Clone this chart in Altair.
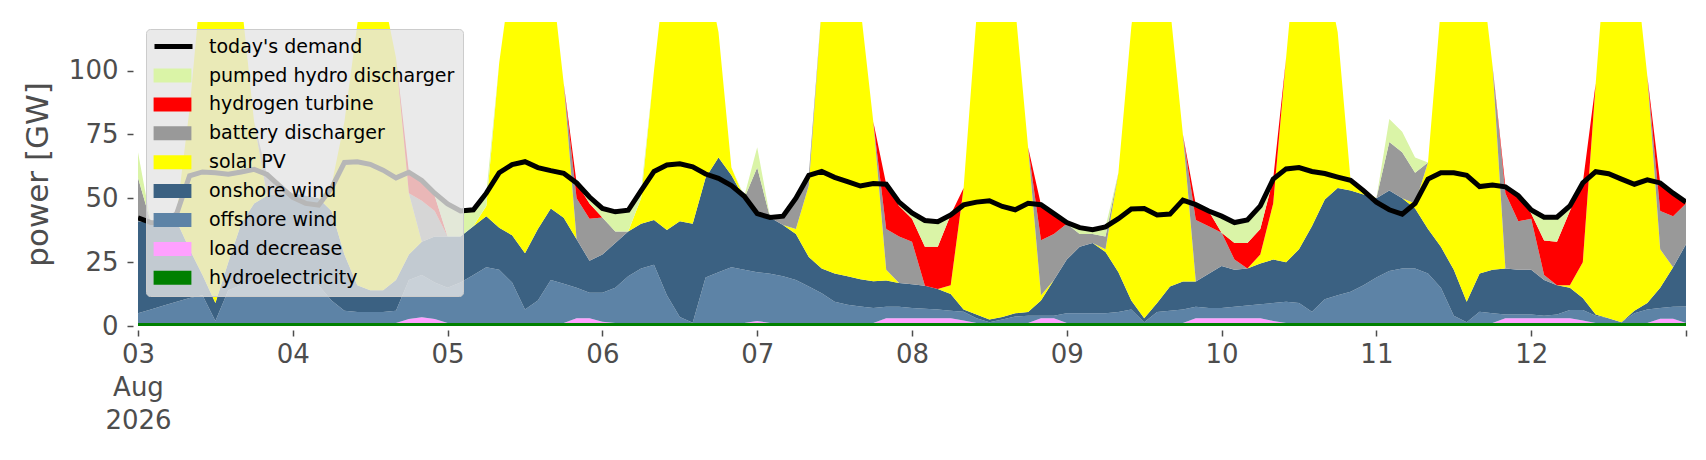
import altair as alt
import pandas as pd

# time axis: Aug 3 2026 00:00 to Aug 13 00:00, every 2 hours
times = pd.date_range("2026-08-03 00:00", periods=121, freq="2h")

demand = [
    42.3, 40.5, 40.4, 44.0, 58.8, 60.3, 60.0, 59.4, 60.3, 61.3, 59.3, 54.8,
    50.3, 48.0, 47.3, 54.0, 64.0, 64.3, 63.3, 61.0, 58.0, 60.2, 57.0, 52.0,
    47.8, 45.0, 45.5, 52.0, 60.0, 63.2, 64.3, 62.0, 60.8, 59.8, 56.0, 50.5,
    46.0, 44.7, 45.3, 53.0, 60.5, 63.0, 63.5, 62.3, 59.5, 57.8, 55.0, 50.8,
    44.0, 42.5, 43.0, 50.0, 59.0, 60.5, 58.2, 56.5, 54.8, 55.8, 55.5, 48.5,
    44.3, 41.3, 40.8, 43.5, 47.4, 48.5, 49.0, 46.8, 45.5, 48.0, 47.5, 44.0,
    40.5, 38.5, 37.7, 38.8, 42.0, 45.8, 46.0, 43.5, 43.8, 49.3, 47.5, 45.0,
    43.0, 40.5, 41.5, 47.0, 57.5, 61.5, 62.0, 60.5, 59.7, 58.3, 57.0, 53.0,
    48.5, 45.5, 43.8, 48.0, 57.5, 60.0, 60.0, 59.0, 54.6, 55.2, 54.5, 51.0,
    45.4, 42.6, 42.6, 47.0, 56.0, 60.4, 59.6, 57.5, 55.5, 57.2, 56.0, 52.0, 48.5,
]

hydro = [
    1.2, 1.2, 1.2, 1.2, 1.2, 1.2, 1.2, 1.2, 1.2, 1.2, 1.2, 1.2,
    1.2, 1.2, 1.2, 1.2, 1.2, 1.2, 1.2, 1.2, 1.2, 1.2, 1.2, 1.2,
    1.2, 1.2, 1.2, 1.2, 1.2, 1.2, 1.2, 1.2, 1.2, 1.2, 1.2, 1.2,
    1.2, 1.2, 1.2, 1.2, 1.2, 1.2, 1.2, 1.2, 1.2, 1.2, 1.2, 1.2,
    1.2, 1.2, 1.2, 1.2, 1.2, 1.2, 1.2, 1.2, 1.2, 1.2, 1.2, 1.2,
    1.2, 1.2, 1.2, 1.2, 1.2, 1.2, 1.2, 1.2, 1.2, 1.2, 1.2, 1.2,
    1.2, 1.2, 1.2, 1.2, 1.2, 1.2, 1.2, 1.2, 1.2, 1.2, 1.2, 1.2,
    1.2, 1.2, 1.2, 1.2, 1.2, 1.2, 1.2, 1.2, 1.2, 1.2, 1.2, 1.2,
    1.2, 1.2, 1.2, 1.2, 1.2, 1.2, 1.2, 1.2, 1.2, 1.2, 1.2, 1.2,
    1.2, 1.2, 1.2, 1.2, 1.2, 1.2, 1.2, 1.2, 1.2, 1.2, 1.2, 1.2, 1.2,
]

load_decrease = [
    0, 0, 0, 0, 0, 0, 0, 0, 0, 0, 0, 0,
    0, 0, 0, 0, 0, 0, 0, 0, 0, 1.5, 2.2, 1.5,
    0, 0, 0, 0, 0, 0, 0, 0, 0, 0, 1.8, 1.8,
    0.5, 0, 0, 0, 0, 0, 0, 0, 0, 0, 0, 0,
    0.8, 0, 0, 0, 0, 0, 0, 0, 0, 0, 1.8, 1.8,
    1.8, 1.8, 1.8, 1.8, 1.0, 0, 0, 0, 0, 0, 1.8, 1.8,
    0, 0, 0, 0, 0, 0, 0, 0, 0, 0, 1.8, 1.8,
    1.8, 1.8, 1.8, 1.8, 0.8, 0, 0, 0, 0, 0, 0, 0,
    0, 0, 0, 0, 0, 0, 0, 0, 0, 0, 1.8, 1.8,
    1.8, 1.8, 1.8, 1.8, 1.0, 0, 0, 0, 0, 0, 1.6, 1.6, 0,
]

offshore = [
    3.8, 5.3, 6.8, 8.3, 9.8, 10.8, 0.8, 12.8, 14.8, 16.8, 17.3, 17.3,
    16.8, 16.3, 14.8, 8.8, 4.8, 4.3, 4.3, 4.3, 4.8, 15.3, 16.6, 14.3,
    13.8, 15.8, 18.8, 21.8, 20.8, 15.8, 5.3, 8.8, 16.8, 15.3, 12.0, 10.0,
    11.3, 13.8, 18.3, 21.3, 22.8, 10.8, 2.3, 0.1, 17.8, 19.8, 21.8, 20.8,
    19.0, 19.3, 18.3, 16.8, 14.3, 11.6, 8.3, 7.1, 6.4, 5.8, 4.5, 4.5,
    4.0, 3.8, 3.5, 3.0, 3.4, 1.8, 0.3, 1.3, 2.5, 2.8, 1.0, 1.0,
    3.8, 3.8, 3.8, 3.8, 4.3, 5.3, 0.3, 4.3, 4.8, 5.3, 4.5, 4.0,
    4.0, 4.5, 5.0, 5.5, 7.0, 8.3, 7.8, 4.4, 9.3, 10.8, 12.2, 14.8,
    17.8, 20.3, 21.3, 21.3, 19.4, 13.8, 2.8, 0.3, 4.4, 3.8, 1.5, 1.5,
    1.5, 1.0, 1.5, 3.3, 4.1, 2.8, 1.8, 0.3, 3.8, 5.3, 4.2, 4.7, 6.4,
]

onshore = [
    36.0, 34.0, 32.0, 31.5, 19.0, 8.0, 7.0, 11.0, 24.0, 30.0, 32.5, 33.5,
    34.0, 33.5, 34.0, 35.0, 22.0, 10.5, 8.5, 8.5, 12.0, 10.0, 13.0, 18.0,
    20.0, 18.0, 19.0, 20.0, 16.5, 18.5, 22.0, 28.0, 28.0, 25.9, 19.0, 12.5,
    15.0, 17.5, 17.5, 17.5, 17.5, 25.6, 37.5, 38.7, 39.0, 45.0, 36.0, 28.0,
    24.0, 22.0, 20.0, 18.0, 11.5, 9.7, 11.1, 11.2, 10.7, 10.5, 10.3, 9.3,
    9.3, 9.0, 8.0, 6.5, 0.9, 1.5, 1.0, 1.0, 1.3, 1.5, 6.0, 14.0,
    21.0, 26.0, 27.5, 24.0, 15.5, 3.5, 1.5, 3.5, 9.5, 10.9, 9.9, 13.5,
    16.5, 14.5, 14.5, 16.0, 17.0, 15.5, 21.0, 33.4, 39.0, 42.0, 39.6, 35.5,
    31.0, 31.5, 27.5, 23.5, 17.4, 16.0, 18.0, 8.0, 15.0, 17.0, 18.0, 17.5,
    17.5, 14.0, 11.5, 8.7, 4.7, 0.5, 0.0, 0.0, 1.0, 2.5, 8.0, 15.5, 24.4,
]

solar = [
    0, 0, 0, 3.0, 55.0, 120.0, 151.0, 125.0, 88.0, 32.0, 0, 0,
    0, 0, 0, 10.0, 52.0, 102.0, 136.0, 116.0, 87.0, 24.0, 0, 0,
    0, 0, 0, 4.0, 64.5, 104.5, 131.5, 117.0, 94.0, 52.6, 0, 0,
    0, 0, 0, 10.0, 58.5, 107.4, 119.0, 120.0, 82.0, 49.0, 3.0, 0,
    0, 0, 0, 2.0, 28.0, 102.5, 134.4, 130.5, 106.7, 62.5, 4.2, 0,
    0, 0, 0, 3.5, 47.5, 116.5, 157.5, 146.5, 120.0, 64.5, 2.0, 0,
    0, 0, 0, 1.0, 39.0, 107.0, 157.0, 141.0, 109.5, 57.6, 0, 0,
    0, 0, 0, 3.5, 22.0, 80.0, 130.0, 116.0, 90.5, 61.0, 4.0, 1.5,
    0, 0, 0, 2.0, 26.0, 94.0, 138.0, 145.5, 124.4, 80.0, 0, 0,
    0, 0, 0, 1.0, 14.0, 90.5, 157.0, 148.5, 139.0, 89.0, 15.0, 0, 0,
]

battery = [
    17.0, 0, 0.4, 0, 0, 0, 0, 0, 0, 0, 8.3, 2.8,
    0, 0, 0, 0, 0, 0, 0, 0, 0, 0, 16.0, 10.0,
    0, 0, 0, 0, 0, 0, 0, 0, 0, 0, 16.0, 16.5,
    14.5, 4.5, 0, 0, 0, 0, 0, 0, 0, 0, 0, 0,
    17.0, 0, 3.5, 12.0, 4.0, 0, 0, 0, 0, 0, 16.0, 18.2,
    16.7, 0, 0, 0, 0, 0, 0, 0, 0, 0, 21.6, 18.0,
    14.0, 5.0, 3.5, 5.0, 0, 0, 0, 0, 0, 0, 24.1, 18.5,
    13.0, 4.0, 0, 0, 0, 0, 0, 0, 0, 0, 0, 0,
    0, 19.0, 18.0, 12.0, 0, 0, 0, 0, 0, 0, 29.5, 19.0,
    20.0, 2.0, 0, 0, 0, 0, 0, 0, 0, 0, 15.0, 20.0, 16.0,
]

hydrogen = [
    0, 0, 0, 0, 0, 0, 0, 0, 0, 0, 0, 0,
    0, 0, 0, 0, 0, 0, 0, 0, 0, 8.2, 8.0, 6.0,
    0, 0, 0, 0, 0, 0, 0, 0, 0, 0, 6.0, 6.0,
    0, 0, 0, 0, 0, 0, 0, 0, 0, 0, 0, 0,
    0, 0, 0, 0, 0, 0, 0, 0, 0, 0, 17.5, 12.0,
    9.0, 15.2, 16.5, 27.5, 0, 0, 0, 0, 0, 0, 13.9, 8.0,
    0, 0, 0, 0, 0, 0, 0, 0, 0, 0, 6.0, 6.0,
    0, 6.5, 10.0, 10.0, 9.5, 0, 0, 0, 0, 0, 0, 0,
    0, 0, 0, 0, 0, 0, 0, 0, 0, 0, 2.5, 10.0,
    2.0, 13.5, 17.0, 29.0, 31.0, 0, 0, 0, 0, 0, 11.0, 9.0, 0,
]

pumped_hydro = [
    10.0, 0, 0, 0, 0, 0, 0, 0, 0, 0, 0, 0,
    0, 0, 0, 0, 0, 0, 0, 0, 0, 0, 0, 1.0,
    12.8, 10.0, 6.5, 5.0, 0, 0, 0, 0, 0, 0, 0, 2.5,
    3.5, 7.7, 8.3, 3.0, 0, 0, 0, 0, 0, 0, 0, 0.8,
    8.0, 0, 0, 0, 0, 0, 0, 0, 0, 0, 0, 1.5,
    2.3, 10.3, 9.8, 0, 0, 0, 0, 0, 0, 0, 0, 0,
    0.5, 2.5, 1.7, 3.8, 0, 0, 0, 0, 0, 0, 0, 0,
    6.5, 8.0, 9.0, 9.0, 0, 0, 0, 0, 0, 0, 0, 0,
    0, 9.0, 8.0, 6.0, 0, 0, 0, 0, 0, 0, 0, 0,
    1.4, 9.1, 9.6, 2.0, 0, 0, 0, 0, 0, 0, 0, 0, 0.5,
]

stack_order = [
    ("hydroelectricity", hydro),
    ("load decrease", load_decrease),
    ("offshore wind", offshore),
    ("onshore wind", onshore),
    ("solar PV", solar),
    ("battery discharger", battery),
    ("hydrogen turbine", hydrogen),
    ("pumped hydro discharger", pumped_hydro),
]

area_names = [
    "pumped hydro discharger", "hydrogen turbine", "battery discharger",
    "solar PV", "onshore wind", "offshore wind", "load decrease",
    "hydroelectricity",
]
area_colors = [
    "#daf4a7", "#ff0000", "#999999", "#ffff00", "#3b6182",
    "#5d83a6", "#ffa0ff", "#008000",
]

rows = []
for k, (name, vals) in enumerate(stack_order):
    for t, v in zip(times, vals):
        rows.append({"time": t, "source": name, "value": v, "ord": k})
area_df = pd.DataFrame(rows)
line_df = pd.DataFrame({"time": times, "source": "today's demand", "value": demand})

FONT = "DejaVu Sans"
GREY = "#4d4d4d"
RECT = "M-2.7,-1H2.7V1H-2.7Z"

fill_legend = alt.Legend(
    title="\u00a0", titleFontSize=19, titlePadding=10, titleFont=FONT,
    orient="none", legendX=8, legendY=7, direction="vertical",
    labelFont=FONT, labelFontSize=19, labelColor="#000000", labelLimit=400,
    symbolSize=196, symbolType=RECT, symbolStrokeWidth=0, symbolOpacity=1,
    symbolOffset=9, rowPadding=8.9, padding=8, labelOffset=27,
    fillColor="rgba(229,229,229,0.8)", strokeColor="#cccccc", cornerRadius=4,
    zindex=1,
)
line_legend = alt.Legend(
    title=None, orient="none", legendX=14, legendY=3,
    labelFont=FONT, labelFontSize=19, labelColor="#000000", labelLimit=400,
    symbolType="stroke", symbolSize=1444, symbolStrokeWidth=5,
    symbolStrokeColor="#000000", padding=0, labelOffset=14,
    zindex=2,
)

x_ticks = [alt.DateTime(year=2026, month=8, date=d) for d in range(3, 14)]
x_enc = alt.X(
    "time:T",
    scale=alt.Scale(
        domain=[alt.DateTime(year=2026, month=8, date=3), alt.DateTime(year=2026, month=8, date=13)],
        nice=False,
    ),
    axis=alt.Axis(
        values=x_ticks, title=None, grid=False, domain=False,
        labelExpr="date(datum.value) == 3 ? ['03', 'Aug', '2026'] : (date(datum.value) == 13 ? '' : timeFormat(datum.value, '%d'))",
        labelFont=FONT, labelFontSize=26, labelColor=GREY, labelLineHeight=33,
        labelPadding=5, labelFlush=False, labelOverlap=False, labelBaseline="top",
        tickSize=6, tickWidth=1.5, tickColor=GREY, offset=4,
    ),
)
y_enc = alt.Y(
    "value:Q", stack="zero",
    scale=alt.Scale(domain=[0, 119], nice=False),
    axis=alt.Axis(
        values=[0, 25, 50, 75, 100], title="power [GW]", grid=False, domain=False,
        titleFont=FONT, titleFontSize=31, titleFontWeight="normal", titleColor=GREY,
        titlePadding=14,
        labelFont=FONT, labelFontSize=26, labelColor=GREY, labelPadding=9,
        tickSize=6, tickWidth=1.5, tickColor=GREY, offset=5,
    ),
)

areas = alt.Chart(area_df).mark_area(clip=True, opacity=1).encode(
    x=x_enc,
    y=y_enc,
    color=alt.Color("source:N", scale=alt.Scale(domain=area_names, range=area_colors),
                    legend=fill_legend),
    order=alt.Order("ord:Q", sort="ascending"),
)

line = alt.Chart(line_df).mark_line(clip=True, strokeWidth=5).encode(
    x=alt.X("time:T"),
    y=alt.Y("value:Q"),
    stroke=alt.Stroke("source:N",
                      scale=alt.Scale(domain=["today's demand"], range=["#000000"]),
                      legend=line_legend),
)

chart = alt.layer(areas, line).properties(
    width=1548, height=304,
    background="white",
    autosize=alt.AutoSizeParams(type="none"),
    padding={"left": 130, "top": 14, "right": 10, "bottom": 120},
).resolve_scale(color="independent", stroke="independent").configure_view(
    stroke=None, strokeWidth=0
)

chart.save("out.html", embed_options={"renderer": "svg", "actions": False})
